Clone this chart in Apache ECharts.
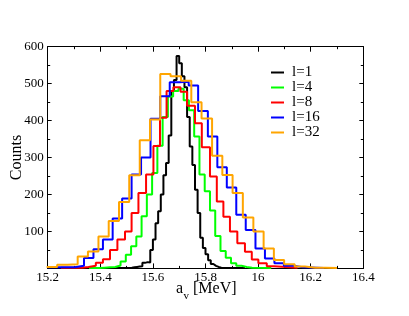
<!DOCTYPE html>
<html>
<head>
<meta charset="utf-8">
<script src="https://cdn.jsdelivr.net/npm/echarts@6/dist/echarts.min.js"></script>
<style>html,body{margin:0;padding:0;background:#fff}#c{width:409px;height:316px}</style>
</head>
<body>
<div id="c"></div>
<script>
// ---- data (bin left edges; last edge closes the final bin) ----
const seriesNames = ['l=1', 'l=4', 'l=8', 'l=16', 'l=32'];

const edgesL1 = [15.40,15.50,15.52,15.53,15.54,15.55,15.56,15.57,15.58,15.59,15.60,15.61,15.62,15.63,15.64,15.65,15.66,15.67,15.68,15.69,15.70,15.71,15.72,15.73,15.74,15.75,15.76,15.77,15.78,15.79,15.80,15.81,15.82,15.83,15.84,15.85,15.86,15.95];
const countsL1 = [1,2,3,4,5,6,15,17,16,50,78,122,155,200,252,285,360,480,510,575,555,520,490,410,330,280,213,150,83,55,38,22,12,7,4,2,1];

const edgesL4 = [15.357,15.397,15.417,15.437,15.457,15.477,15.497,15.517,15.537,15.557,15.577,15.597,15.617,15.637,15.657,15.677,15.697,15.717,15.737,15.757,15.777,15.797,15.817,15.837,15.857,15.877,15.897,15.917,15.937,15.957,15.977,16.05];
const countsL4 = [1,2,3,4,8,19,37,60,86,141,200,258,332,410,465,480,486,455,428,357,254,209,157,88,47,29,14,7,4,2,1];

const edgesL8 = [15.25,15.33,15.355,15.383,15.41,15.437,15.465,15.494,15.519,15.545,15.574,15.602,15.627,15.652,15.678,15.705,15.73,15.76,15.786,15.817,15.843,15.868,15.893,15.921,15.95,15.976,16.001,16.033,16.06,16.15];
const countsL8 = [2,4,7,15,25,50,78,100,150,204,254,331,408,480,490,478,440,393,328,249,181,140,100,68,45,24,14,6,2];

const edgesL16 = [15.20,15.302,15.338,15.374,15.410,15.447,15.483,15.519,15.555,15.591,15.628,15.664,15.700,15.736,15.772,15.809,15.845,15.881,15.917,15.953,15.990,16.026,16.062,16.098,16.134,16.17,16.25];
const countsL16 = [3,7,28,52,78,135,189,254,300,405,466,504,505,495,426,357,274,219,145,104,54,27,14,7,3,1];

const edgesL32 = [15.196,15.236,15.275,15.314,15.353,15.393,15.432,15.471,15.510,15.550,15.589,15.628,15.667,15.707,15.746,15.785,15.825,15.864,15.903,15.942,15.982,16.021,16.060,16.099,16.139,16.178,16.217,16.257,16.30];
const countsL32 = [4,10,11,32,46,86,128,180,252,347,403,526,520,508,450,406,305,253,204,138,100,54,23,11,5,2,2,1];

const seriesColors = ['#000000', '#00ff00', '#ff0000', '#0000ff', '#ffa500'];
const xTickLabels = ['15.2','15.4','15.6','15.8','16','16.2','16.4'];
const yTickLabels = ['', '100','200','300','400','500','600'];

// ---- build ----
function stepData(edges, counts) {
  const d = counts.map((c, i) => [edges[i], c]);
  d.push([edges[edges.length - 1], counts[counts.length - 1]]);
  return d;
}
const allEdges = [edgesL1, edgesL4, edgesL8, edgesL16, edgesL32];
const allCounts = [countsL1, countsL4, countsL8, countsL16, countsL32];

const serif = '"Liberation Serif", "Times New Roman", serif';
const black = '#000';

function xAxisBase(pos, labels) {
  return {
    type: 'value', position: pos, min: 15.2, max: 16.4, interval: 0.2,
    axisLine: { show: true, onZero: false, lineStyle: { color: black, width: 1 } },
    axisTick: { show: true, inside: true, length: 5, lineStyle: { color: black, width: 1 } },
    minorTick: { show: true, splitNumber: 2, length: 2.5, lineStyle: { color: black, width: 1 } },
    splitLine: { show: false }, minorSplitLine: { show: false },
    axisLabel: {
      show: labels, showMinLabel: true, showMaxLabel: true, margin: 3,
      fontFamily: serif, fontSize: 13, color: black,
      formatter: v => xTickLabels[Math.round((v - 15.2) / 0.2)] || ''
    }
  };
}
function yAxisBase(pos, labels) {
  return {
    type: 'value', position: pos, min: 0, max: 600, interval: 100,
    axisLine: { show: true, onZero: false, lineStyle: { color: black, width: 1 } },
    axisTick: { show: true, inside: true, length: 4, lineStyle: { color: black, width: 1 } },
    minorTick: { show: true, splitNumber: 2, length: 2.5, lineStyle: { color: black, width: 1 } },
    splitLine: { show: false }, minorSplitLine: { show: false },
    axisLabel: {
      show: labels, showMinLabel: true, showMaxLabel: true, margin: 4,
      fontFamily: serif, fontSize: 13, color: black,
      formatter: v => yTickLabels[Math.round(v / 100)] || ''
    }
  };
}

const yMain = yAxisBase('left', true);
yMain.name = 'Counts';
yMain.nameLocation = 'middle';
yMain.nameRotate = 90;
yMain.nameGap = 23;
yMain.nameMoveOverlap = false;
yMain.nameTextStyle = { fontFamily: serif, fontSize: 16, color: black };

const chart = echarts.init(document.getElementById('c'), null, { renderer: 'canvas' });
chart.setOption({
  animation: false,
  backgroundColor: '#fff',
  grid: { left: 47.7, right: 45.7, top: 46.7, bottom: 47.6, containLabel: false, outerBoundsMode: 'none' },
  xAxis: [xAxisBase('bottom', true), xAxisBase('top', false)],
  yAxis: [yMain, yAxisBase('right', false)],
  legend: {
    orient: 'vertical', left: 271, top: 65, padding: 0, itemGap: 0,
    itemWidth: 13, itemHeight: 2, icon: 'rect',
    textStyle: { fontFamily: serif, fontSize: 15, color: black, lineHeight: 14.5, padding: [0, 0, 0, 3] },
    data: seriesNames
  },
  graphic: [
    { type: 'text', x: 176, y: 289, style: { text: 'a', font: '16px ' + serif, fill: black, align: 'left', verticalAlign: 'middle' } },
    { type: 'text', x: 183.5, y: 296, style: { text: 'v', font: '11px ' + serif, fill: black, align: 'left', verticalAlign: 'middle' } },
    { type: 'text', x: 193, y: 289, style: { text: '[MeV]', font: '16px ' + serif, fill: black, align: 'left', verticalAlign: 'middle' } }
  ],
  series: seriesNames.map((n, i) => ({
    name: n, type: 'line', step: 'end', xAxisIndex: 0, yAxisIndex: 0,
    showSymbol: false, symbol: 'none', clip: true,
    color: seriesColors[i],
    lineStyle: { color: seriesColors[i], width: 2 },
    data: stepData(allEdges[i], allCounts[i])
  }))
});
</script>
</body>
</html>
